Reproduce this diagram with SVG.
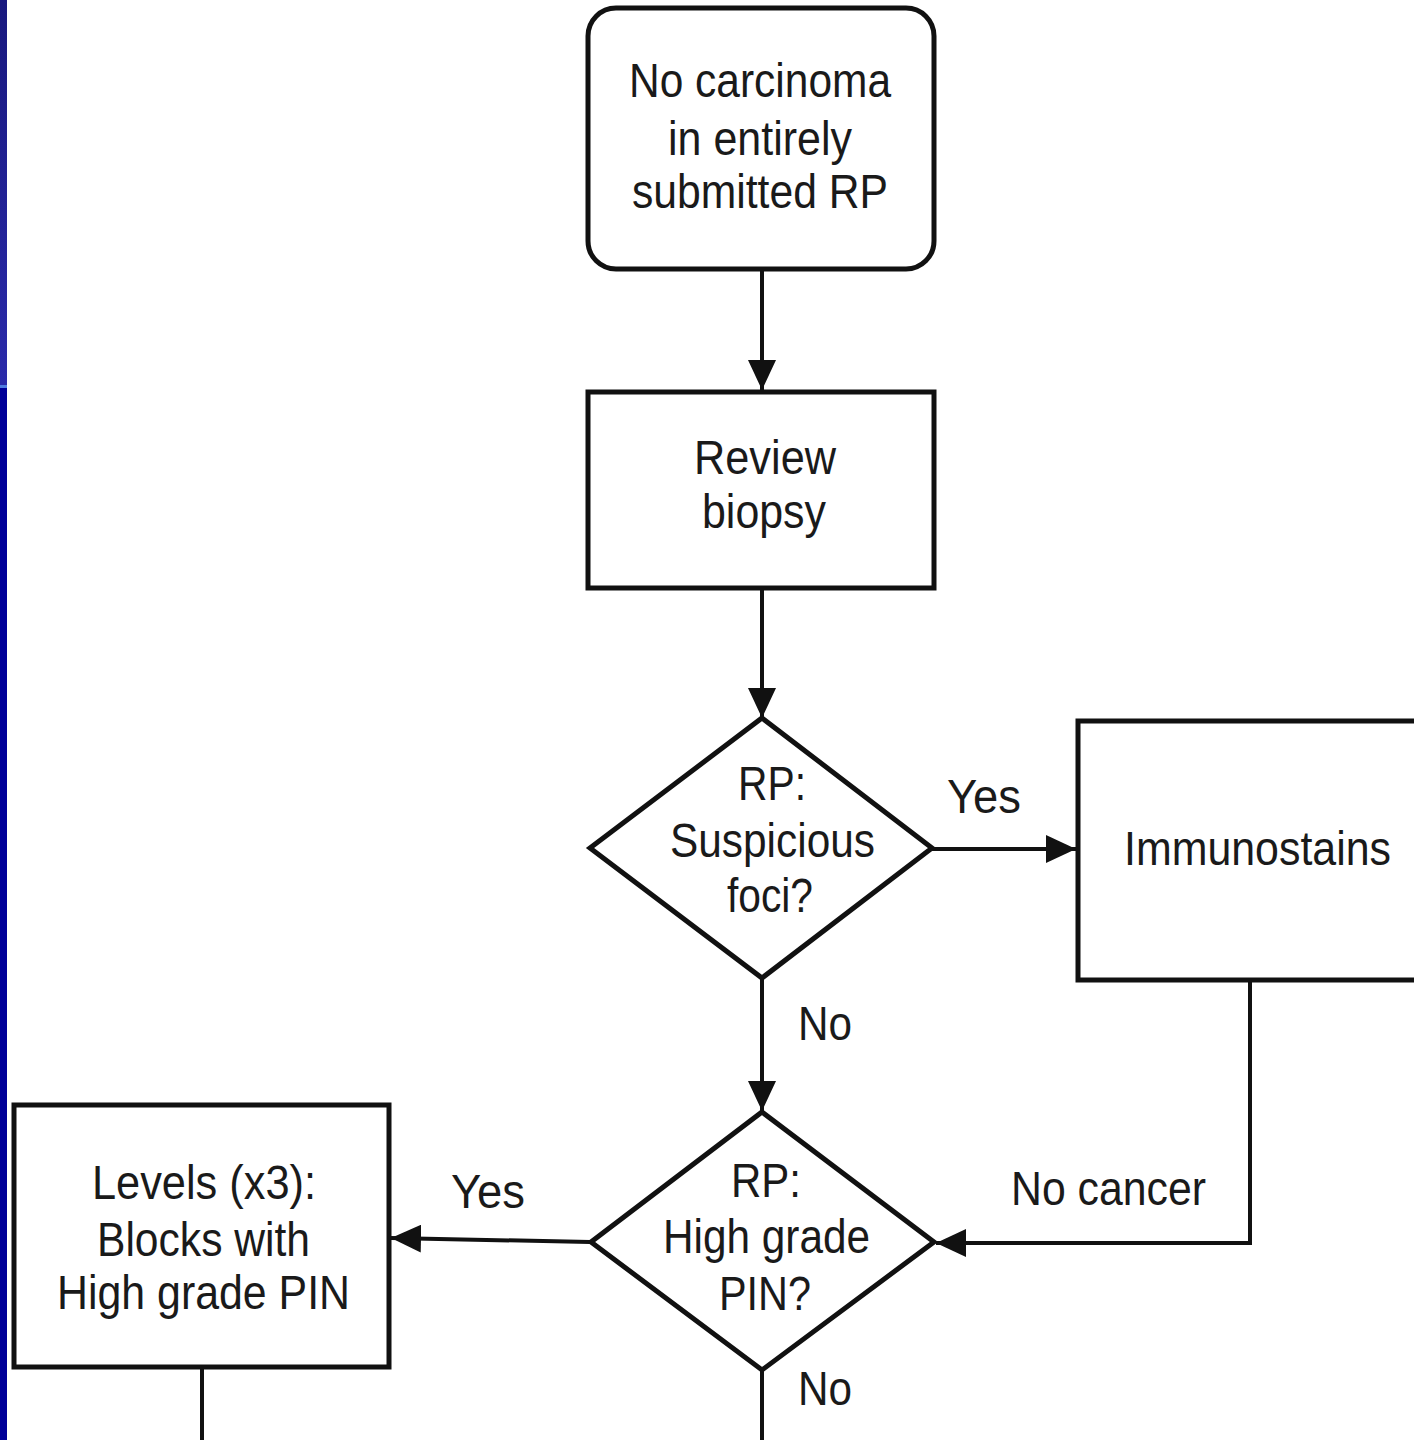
<svg xmlns="http://www.w3.org/2000/svg" width="1414" height="1440" viewBox="0 0 1414 1440">
<style>
.box{fill:#fff;stroke:#111;stroke-width:5}
.con{fill:none;stroke:#111;stroke-width:4}
.t{font-family:"Liberation Sans",Arial,sans-serif;font-size:48px;fill:#1a1a1a}
</style>
<defs>
<linearGradient id="strip" x1="0" y1="0" x2="0" y2="1">
<stop offset="0" stop-color="#18187e"/>
<stop offset="1" stop-color="#2a2aaa"/>
</linearGradient>
<marker id="ah" markerUnits="userSpaceOnUse" markerWidth="32" markerHeight="28" refX="30" refY="14" orient="auto">
<path d="M0,0 L30,14 L0,28 Z" fill="#111"/>
</marker>
</defs>
<rect x="0" y="0" width="1414" height="1440" fill="#fff"/>
<rect x="0" y="0" width="7" height="385" fill="url(#strip)"/>
<rect x="0" y="385" width="7" height="3" fill="#4f7de0"/>
<rect x="0" y="388" width="7" height="1052" fill="#000099"/>

<g id="connectors">
<line class="con" x1="762" y1="270" x2="762" y2="390" marker-end="url(#ah)"/>
<line class="con" x1="762" y1="588" x2="762" y2="718" marker-end="url(#ah)"/>
<line class="con" x1="932" y1="849" x2="1076" y2="849" marker-end="url(#ah)"/>
<line class="con" x1="762" y1="978" x2="762" y2="1111" marker-end="url(#ah)"/>
<polyline class="con" points="1250,981 1250,1243 936,1243" marker-end="url(#ah)"/>
<line class="con" x1="590" y1="1242" x2="391" y2="1238" marker-end="url(#ah)"/>
<line class="con" x1="202" y1="1367" x2="202" y2="1440"/>
<line class="con" x1="762" y1="1370" x2="762" y2="1440"/>
<text class="t" x="947" y="813" textLength="74" lengthAdjust="spacingAndGlyphs">Yes</text>
<text class="t" x="798" y="1040" textLength="54" lengthAdjust="spacingAndGlyphs">No</text>
<text class="t" x="1011" y="1205" textLength="195" lengthAdjust="spacingAndGlyphs">No cancer</text>
<text class="t" x="451" y="1208" textLength="74" lengthAdjust="spacingAndGlyphs">Yes</text>
<text class="t" x="798" y="1405" textLength="54" lengthAdjust="spacingAndGlyphs">No</text>
</g>

<g id="start">
<rect class="box" x="588" y="8" width="346" height="261" rx="28"/>
<text class="t" x="629" y="97" textLength="262" lengthAdjust="spacingAndGlyphs">No carcinoma</text>
<text class="t" x="668" y="155" textLength="184" lengthAdjust="spacingAndGlyphs">in entirely</text>
<text class="t" x="632" y="208" textLength="256" lengthAdjust="spacingAndGlyphs">submitted RP</text>
</g>

<g id="review">
<rect class="box" x="588" y="392" width="346" height="196"/>
<text class="t" x="694" y="474" textLength="142" lengthAdjust="spacingAndGlyphs">Review</text>
<text class="t" x="702" y="528" textLength="124" lengthAdjust="spacingAndGlyphs">biopsy</text>
</g>

<g id="suspicious">
<polygon class="box" points="762,718 932,848 762,978 590,848"/>
<text class="t" x="738" y="800" textLength="68" lengthAdjust="spacingAndGlyphs">RP:</text>
<text class="t" x="670" y="857" textLength="205" lengthAdjust="spacingAndGlyphs">Suspicious</text>
<text class="t" x="727" y="912" textLength="86" lengthAdjust="spacingAndGlyphs">foci?</text>
</g>

<g id="immunostains">
<rect class="box" x="1078" y="721" width="345" height="259"/>
<text class="t" x="1124" y="865" textLength="267" lengthAdjust="spacingAndGlyphs">Immunostains</text>
</g>

<g id="hgpin">
<polygon class="box" points="762,1112 934,1242 762,1370 591,1242"/>
<text class="t" x="731" y="1197" textLength="70" lengthAdjust="spacingAndGlyphs">RP:</text>
<text class="t" x="663" y="1253" textLength="207" lengthAdjust="spacingAndGlyphs">High grade</text>
<text class="t" x="719" y="1310" textLength="92" lengthAdjust="spacingAndGlyphs">PIN?</text>
</g>

<g id="levels">
<rect class="box" x="14" y="1105" width="375" height="262"/>
<text class="t" x="92" y="1199" textLength="224" lengthAdjust="spacingAndGlyphs">Levels (x3):</text>
<text class="t" x="97" y="1256" textLength="213" lengthAdjust="spacingAndGlyphs">Blocks with</text>
<text class="t" x="57" y="1309" textLength="293" lengthAdjust="spacingAndGlyphs">High grade PIN</text>
</g>
</svg>
